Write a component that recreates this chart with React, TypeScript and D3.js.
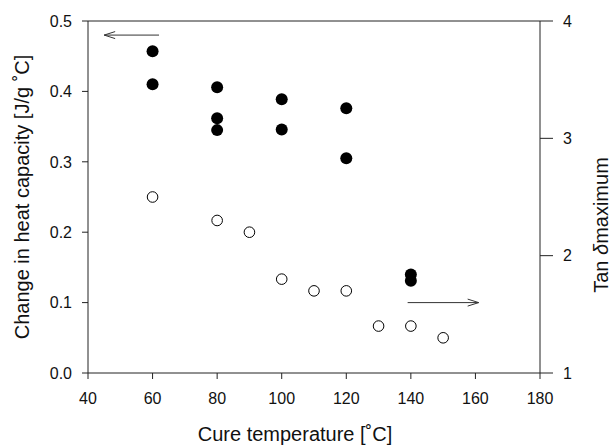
import React from "react";
import * as d3 from "d3";

// Change in heat capacity (left axis, filled markers)
const heatTemps = [60, 60, 80, 80, 80, 100, 100, 120, 120, 140, 140];
const heatValues = [0.457, 0.41, 0.406, 0.362, 0.345, 0.389, 0.346, 0.376, 0.305, 0.14, 0.131];

// Tan delta maximum (right axis, open markers)
const tanTemps = [60, 80, 90, 100, 110, 120, 130, 140, 150];
const tanValues = [2.5, 2.3, 2.2, 1.8, 1.7, 1.7, 1.4, 1.4, 1.3];

const xTicks = [40, 60, 80, 100, 120, 140, 160, 180];
const leftTicks = [0, 0.1, 0.2, 0.3, 0.4, 0.5];
const rightTicks = [1, 2, 3, 4];

// arrows: [x start, x end, y value]
const leftArrow = { x0: 62, x1: 45, y: 0.48 };
const rightArrow = { x0: 139, x1: 161, y: 1.6 };

export default function App() {
  const W = 614, H = 446;
  const L = 88, R = 540, T = 21, B = 373;
  const x = d3.scaleLinear().domain([40, 180]).range([L, R]);
  const yL = d3.scaleLinear().domain([0, 0.5]).range([B, T]);
  const yR = d3.scaleLinear().domain([1, 4]).range([B, T]);
  const font = "'Liberation Sans', Arial, sans-serif";
  const stroke = "#222";

  const arrow = (xa: number, xb: number, y: number, key: string) => {
    const dir = xb > xa ? 1 : -1;
    const hl = 11, hw = 3.5;
    return (
      <g key={key} stroke="#333" strokeWidth={1} fill="none">
        <line x1={xa} y1={y} x2={xb} y2={y} />
        <polyline points={`${xb - dir * hl},${y - hw} ${xb},${y} ${xb - dir * hl},${y + hw}`} />
      </g>
    );
  };

  return (
    <svg width={W} height={H} style={{ position: "absolute", left: 0, top: 0, background: "#fff" }} fontFamily={font}>
      {/* frame */}
      <line x1={L} y1={T} x2={R} y2={T} stroke={stroke} />
      <line x1={L} y1={B} x2={R} y2={B} stroke={stroke} />
      <line x1={L} y1={T} x2={L} y2={B} stroke={stroke} />
      <line x1={R} y1={T} x2={R} y2={B} stroke={stroke} />
      {/* x ticks */}
      {xTicks.map((t) => (
        <g key={"x" + t}>
          <line x1={x(t)} x2={x(t)} y1={B} y2={B + 6} stroke={stroke} />
          <text x={x(t)} y={B + 31} textAnchor="middle" fontSize={16} fill="#111">{t}</text>
        </g>
      ))}
      {/* left ticks */}
      {leftTicks.map((t) => (
        <g key={"l" + t}>
          <line x1={L - 6} x2={L} y1={yL(t)} y2={yL(t)} stroke={stroke} />
          <text x={L - 16} y={yL(t)} dy="0.36em" textAnchor="end" fontSize={16} fill="#111">{t.toFixed(1)}</text>
        </g>
      ))}
      {/* right ticks */}
      {rightTicks.map((t) => (
        <g key={"r" + t}>
          <line x1={R} x2={R + 13} y1={yR(t)} y2={yR(t)} stroke={stroke} />
          <text x={R + 23} y={yR(t)} dy="0.36em" textAnchor="start" fontSize={16} fill="#111">{t}</text>
        </g>
      ))}
      {/* axis titles */}
      <text x={295} y={441} textAnchor="middle" fontSize={20} fill="#111">Cure temperature [˚C]</text>
      <text transform={`translate(28.5,${(T + B) / 2}) rotate(-90)`} textAnchor="middle" fontSize={20} fill="#111">
        Change in heat capacity [J/g ˚C]
      </text>
      <text transform={`translate(608,225) rotate(-90)`} textAnchor="middle" fontSize={20} fill="#111">
        Tan <tspan fontStyle="italic">δ</tspan>maximum
      </text>
      {/* arrows */}
      {arrow(x(leftArrow.x0), x(leftArrow.x1), yL(leftArrow.y), "la")}
      {arrow(x(rightArrow.x0), x(rightArrow.x1), yR(rightArrow.y), "ra")}
      {/* open markers */}
      {tanTemps.map((t, i) => (
        <circle key={"o" + i} cx={x(t)} cy={yR(tanValues[i])} r={5.3} fill="#fff" stroke="#000" strokeWidth={1} />
      ))}
      {/* filled markers */}
      {heatTemps.map((t, i) => (
        <circle key={"f" + i} cx={x(t)} cy={yL(heatValues[i])} r={6} fill="#000" />
      ))}
    </svg>
  );
}
